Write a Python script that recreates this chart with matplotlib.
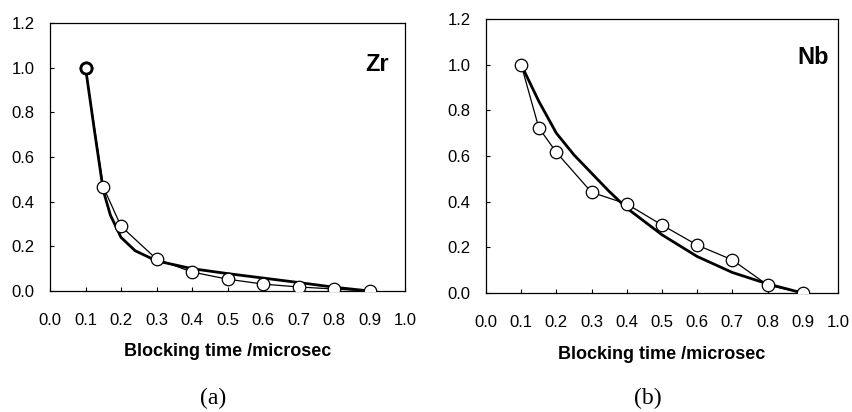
import matplotlib
matplotlib.use("Agg")
import matplotlib.pyplot as plt

# measured points (open circles)
t_pts = [0.1, 0.15, 0.2, 0.3, 0.4, 0.5, 0.6, 0.7, 0.8, 0.9]
zr_pts = [1.0, 0.466, 0.29, 0.143, 0.085, 0.053, 0.031, 0.018, 0.009, 0.0]
nb_pts = [1.0, 0.724, 0.616, 0.441, 0.39, 0.298, 0.21, 0.145, 0.035, 0.0]

# fitted curves (thick lines)
zr_fit_t = [0.1, 0.125, 0.15, 0.17, 0.2, 0.24, 0.3, 0.4, 0.5, 0.6, 0.7, 0.8, 0.9]
zr_fit = [1.0, 0.72, 0.45, 0.34, 0.24, 0.18, 0.135, 0.10, 0.078, 0.058, 0.038, 0.017, 0.0]
nb_fit_t = [0.1, 0.125, 0.15, 0.2, 0.25, 0.3, 0.35, 0.4, 0.5, 0.6, 0.7, 0.8, 0.9]
nb_fit = [1.0, 0.92, 0.84, 0.70, 0.605, 0.525, 0.445, 0.372, 0.255, 0.16, 0.09, 0.04, 0.0]

xticks = [0.0, 0.1, 0.2, 0.3, 0.4, 0.5, 0.6, 0.7, 0.8, 0.9, 1.0]
yticks = [0.0, 0.2, 0.4, 0.6, 0.8, 1.0, 1.2]

plt.rcParams['font.family'] = ['Liberation Sans', 'DejaVu Sans']

fig = plt.figure(figsize=(8.52, 4.12), dpi=100)
ax1 = fig.add_axes([0.0587, 0.2937, 0.4167, 0.6505])
ax2 = fig.add_axes([0.5704, 0.2888, 0.4131, 0.665])


def style(ax, fit_t, fit, pts, name, tx, ty):
    ax.plot(fit_t, fit, color='k', lw=2.0, zorder=2)
    ax.plot(t_pts, pts, color='k', lw=0.9, marker='o', ms=9,
            mfc='white', mec='k', mew=0.9, zorder=3)
    ax.set_xlim(0, 1.0)
    ax.set_ylim(0, 1.2)
    ax.set_xticks(xticks)
    ax.set_yticks(yticks)
    ax.set_xticklabels(['%.1f' % v for v in xticks])
    ax.set_yticklabels(['%.1f' % v for v in yticks])
    ax.tick_params(direction='in', length=3, width=0.8, labelsize=12)
    ax.tick_params(axis='x', pad=16)
    ax.tick_params(axis='y', pad=11)
    for s in ax.spines.values():
        s.set_linewidth(0.9)
    ax.set_xlabel('Blocking time /microsec', fontsize=13,
                  fontweight='bold', labelpad=11)
    ax.text(tx, ty, name, transform=ax.transAxes, fontsize=17,
            fontweight='bold', ha='center', va='center')


style(ax1, zr_fit_t, zr_fit, zr_pts, 'Zr', 0.922, 0.845)
# bold first circle in Zr panel
ax1.plot(t_pts[:1], zr_pts[:1], marker='o', ms=8, mfc='white', mec='k',
         mew=2.0, zorder=4)
style(ax2, nb_fit_t, nb_fit, nb_pts, 'Nb', 0.93, 0.86)

fig.text(213 / 852, 1 - 398 / 412, '(a)', fontsize=17, family='Liberation Serif',
         ha='center', va='center')
fig.text(648 / 852, 1 - 398 / 412, '(b)', fontsize=17, family='Liberation Serif',
         ha='center', va='center')

fig.savefig('out.png', dpi=100)
